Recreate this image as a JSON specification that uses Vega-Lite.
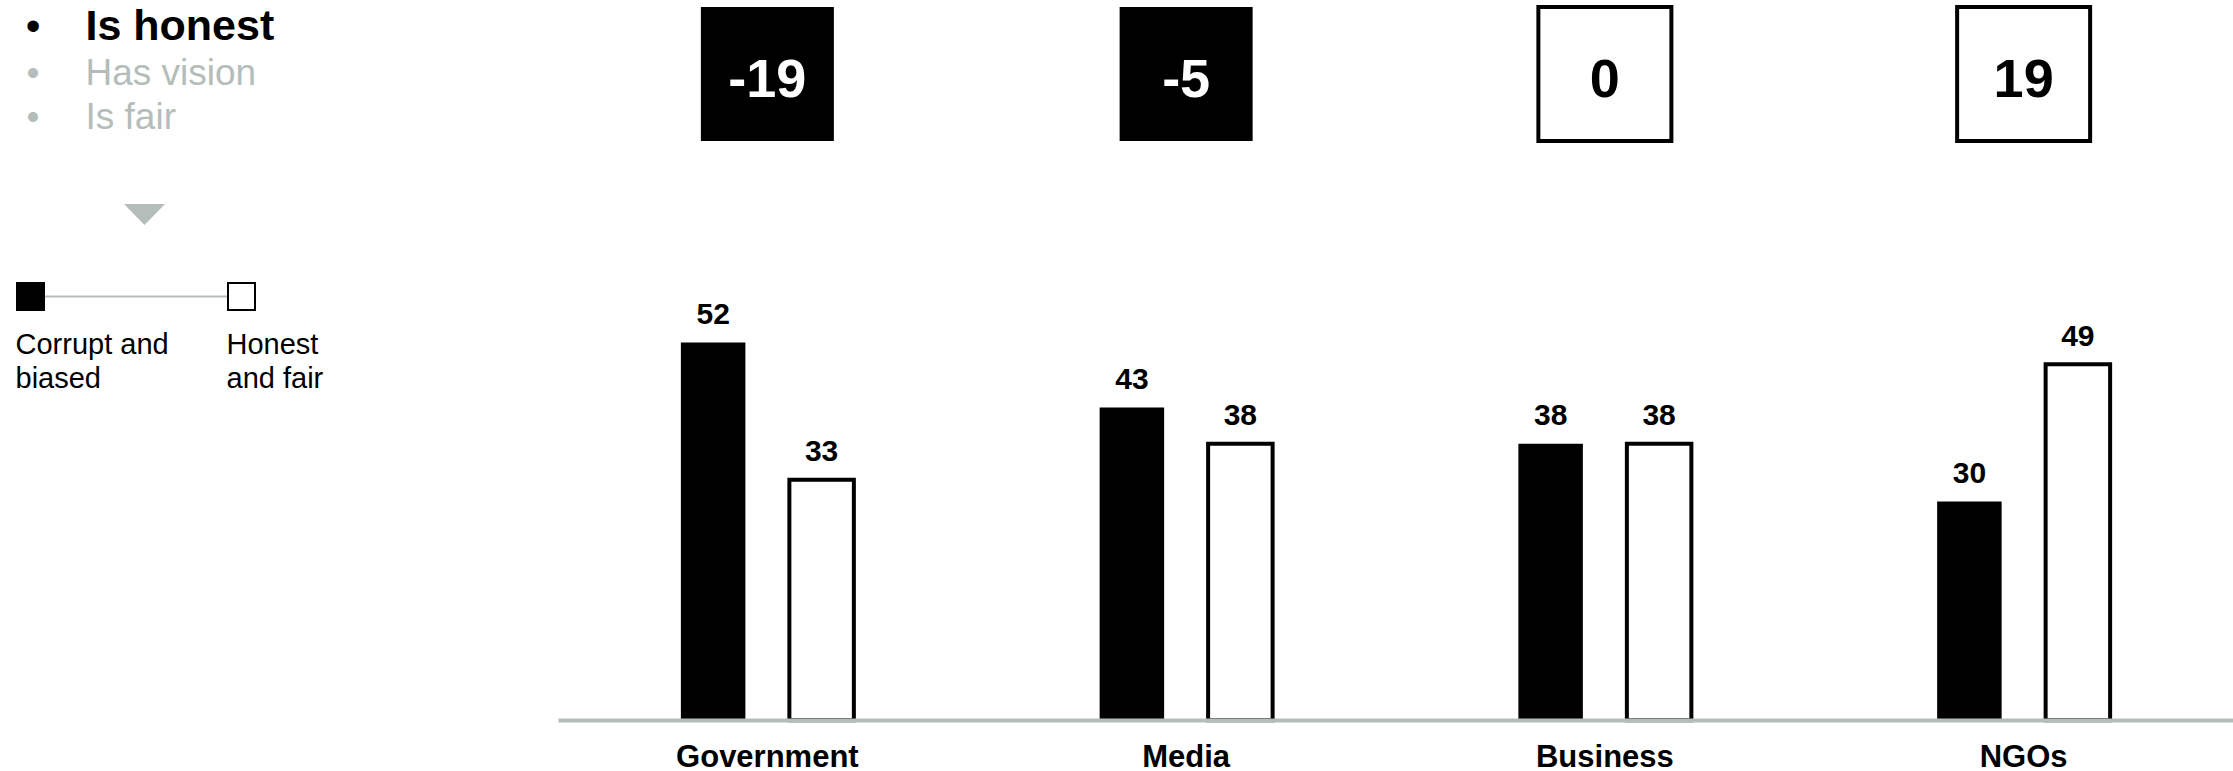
{
  "$schema": "https://vega.github.io/schema/vega-lite/v6.json",
  "background": "white",
  "padding": 0,
  "spacing": 0,
  "config": {"view": {"stroke": null}, "font": "Liberation Sans"},
  "datasets": {
    "bars": [
      {"category": "Government", "series": "Corrupt and biased", "value": 52},
      {"category": "Government", "series": "Honest and fair", "value": 33},
      {"category": "Media", "series": "Corrupt and biased", "value": 43},
      {"category": "Media", "series": "Honest and fair", "value": 38},
      {"category": "Business", "series": "Corrupt and biased", "value": 38},
      {"category": "Business", "series": "Honest and fair", "value": 38},
      {"category": "NGOs", "series": "Corrupt and biased", "value": 30},
      {"category": "NGOs", "series": "Honest and fair", "value": 49}
    ],
    "gaps": [
      {"category": "Government", "diff": -19},
      {"category": "Media", "diff": -5},
      {"category": "Business", "diff": 0},
      {"category": "NGOs", "diff": 19}
    ],
    "attributes": [
      {"item": "Is honest", "active": true},
      {"item": "Has vision", "active": false},
      {"item": "Is fair", "active": false}
    ],
    "legend": [
      {"series": "Corrupt and biased", "label": ["Corrupt and", "biased"]},
      {"series": "Honest and fair", "label": ["Honest", "and fair"]}
    ]
  },
  "hconcat": [
    {
      "width": 558,
      "height": 593,
      "layer": [
        {
          "data": {"name": "legend"},
          "mark": {"type": "line", "color": "#b5bdba", "strokeWidth": 2},
          "encoding": {
            "x": {"field": "series", "type": "nominal", "scale": {"type": "point", "domain": ["Corrupt and biased", "Honest and fair"], "range": [30.5, 241.5], "padding": 0}, "axis": null}
          }
        },
        {
          "data": {"name": "legend"},
          "mark": {"type": "point", "shape": "square", "filled": true, "size": 729, "strokeWidth": 2, "stroke": "black", "opacity": 1},
          "encoding": {
            "x": {"field": "series", "type": "nominal", "axis": null},
            "fill": {"field": "series", "type": "nominal", "scale": {"domain": ["Corrupt and biased", "Honest and fair"], "range": ["black", "white"]}, "legend": null}
          }
        },
        {
          "data": {"name": "legend"},
          "mark": {"type": "text", "align": "left", "baseline": "alphabetic", "dx": -15, "dy": 57, "fontSize": 29, "lineHeight": 34, "color": "black"},
          "encoding": {
            "x": {"field": "series", "type": "nominal", "axis": null},
            "text": {"field": "label", "type": "nominal"}
          }
        },
        {
          "data": {"name": "attributes"},
          "transform": [{"filter": "datum.active"}],
          "mark": {"type": "point", "shape": "M-1,-0.512L1,-0.512L0,0.512Z", "filled": true, "size": 1681, "color": "#b5bdba", "opacity": 1, "xOffset": 114, "yOffset": -82},
          "encoding": {
            "x": {"datum": "Corrupt and biased", "type": "nominal", "axis": null}
          }
        },
        {
          "data": {"name": "attributes"},
          "mark": {"type": "text", "text": "•", "align": "center", "baseline": "alphabetic", "dx": 2.5},
          "encoding": {
            "x": {"datum": "Corrupt and biased", "type": "nominal", "axis": null},
            "y": {"field": "item", "type": "nominal", "scale": {"type": "point", "domain": ["Is honest", "Has vision", "Is fair"], "range": [40, 129], "padding": 0}, "axis": null},
            "size": {"condition": {"test": "datum.active", "value": 42}, "value": 37},
            "color": {"condition": {"test": "datum.active", "value": "black"}, "value": "#b5bdba"}
          }
        },
        {
          "data": {"name": "attributes"},
          "transform": [{"filter": "datum.active"}],
          "mark": {"type": "text", "align": "left", "baseline": "alphabetic", "dx": 55, "fontSize": 43, "fontWeight": "bold", "color": "black"},
          "encoding": {
            "x": {"datum": "Corrupt and biased", "type": "nominal", "axis": null},
            "y": {"field": "item", "type": "nominal", "axis": null},
            "text": {"field": "item", "type": "nominal"}
          }
        },
        {
          "data": {"name": "attributes"},
          "transform": [{"filter": "!datum.active"}],
          "mark": {"type": "text", "align": "left", "baseline": "alphabetic", "dx": 55, "fontSize": 37, "color": "#b5bdba"},
          "encoding": {
            "x": {"datum": "Corrupt and biased", "type": "nominal", "axis": null},
            "y": {"field": "item", "type": "nominal", "axis": null},
            "text": {"field": "item", "type": "nominal"}
          }
        }
      ]
    },
    {
      "width": 1675,
      "height": 718,
      "layer": [
        {
          "data": {"name": "bars"},
          "mark": {"type": "bar", "strokeWidth": 4},
          "encoding": {
            "x": {
              "field": "category", "type": "nominal",
              "scale": {"domain": ["Government", "Media", "Business", "NGOs"], "paddingInner": 0.5869, "paddingOuter": 0.29345},
              "axis": {"title": null, "domain": true, "domainColor": "#b5bdba", "domainWidth": 4, "offset": 2, "ticks": false, "tickSize": 0, "grid": false, "labelAngle": 0, "labelFontSize": 31, "labelFontWeight": "bold", "labelColor": "black", "labelPadding": 22.5, "labelLimit": 0, "zindex": 1}
            },
            "xOffset": {"field": "series", "type": "nominal", "scale": {"domain": ["Corrupt and biased", "Honest and fair"], "paddingInner": 0.4055, "paddingOuter": 0}},
            "y": {"field": "value", "type": "quantitative", "scale": {"domain": [0, 99.45], "nice": false, "zero": false}, "axis": null},
            "y2": {"datum": -0.3},
            "fill": {"field": "series", "type": "nominal", "scale": {"domain": ["Corrupt and biased", "Honest and fair"], "range": ["black", "white"]}, "legend": null},
            "stroke": {"condition": {"test": "datum.series === 'Honest and fair'", "value": "black"}, "value": "transparent"}
          }
        },
        {
          "data": {"name": "bars"},
          "mark": {"type": "text", "baseline": "alphabetic", "dy": -18.5, "fontSize": 30, "fontWeight": "bold", "color": "black"},
          "encoding": {
            "x": {"field": "category", "type": "nominal"},
            "xOffset": {"field": "series", "type": "nominal"},
            "y": {"field": "value", "type": "quantitative"},
            "text": {"field": "value", "type": "quantitative"}
          }
        },
        {
          "data": {"name": "gaps"},
          "mark": {"type": "bar", "width": 133, "strokeWidth": 4},
          "encoding": {
            "x": {"field": "category", "type": "nominal"},
            "y": {"datum": 98.48},
            "y2": {"datum": 79.92},
            "fill": {"condition": {"test": "datum.diff < 0", "value": "black"}, "value": "white"},
            "stroke": {"condition": {"test": "datum.diff < 0", "value": "transparent"}, "value": "black"}
          }
        },
        {
          "data": {"name": "gaps"},
          "mark": {"type": "text", "baseline": "alphabetic", "fontSize": 54, "fontWeight": "bold"},
          "encoding": {
            "x": {"field": "category", "type": "nominal"},
            "y": {"datum": 86},
            "text": {"field": "diff", "type": "nominal"},
            "color": {"condition": {"test": "datum.diff < 0", "value": "white"}, "value": "black"}
          }
        }
      ]
    }
  ]
}
